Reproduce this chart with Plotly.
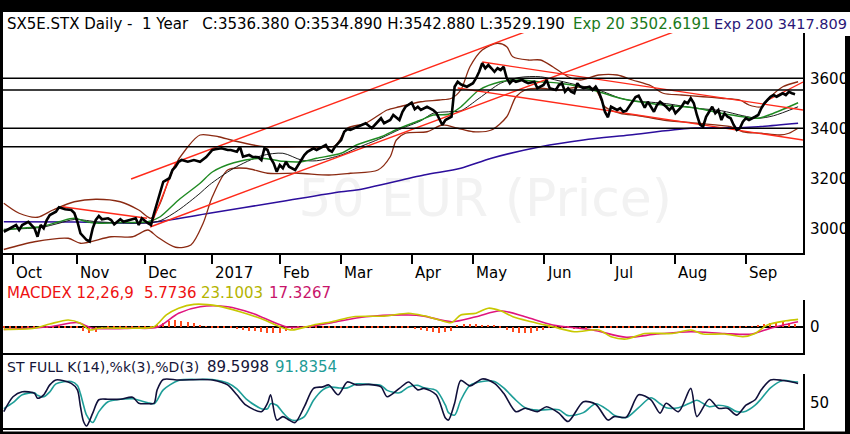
import plotly.graph_objs as go

# trading-day index: 0 = first session of Oct 2016 (weekdays only)
x_range = [-3.26, 257.6]
month_days = [0, 21, 43, 65, 87, 107, 130, 150, 173, 195, 216, 239]
month_labels = ['Oct', 'Nov', 'Dec', '2017', 'Feb', 'Mar', 'Apr', 'May', 'Jun', 'Jul', 'Aug', 'Sep']

price_day = [-3, -1, 1, 2, 3, 5, 7, 8, 9, 10,
             11, 12, 14, 15, 17, 19, 20, 21, 22, 24,
             25, 26, 27, 28, 29, 31, 32, 33, 35, 36,
             38, 40, 41, 42, 44, 45, 46, 48, 49, 51,
             52, 53, 54, 55, 57, 59, 61, 63, 65, 66,
             68, 70, 71, 73, 74, 75, 77, 78, 80, 81,
             82, 83, 84, 85, 86, 87, 88, 89, 90, 92,
             93, 95, 96, 98, 99, 101, 102, 103, 104, 105,
             107, 108, 109, 110, 112, 114, 115, 117, 119, 120,
             121, 123, 124, 126, 127, 128, 130, 131, 132, 133,
             135, 137, 138, 140, 141, 143, 144, 145, 146, 148,
             150, 151, 152, 153, 154, 155, 156, 157, 158, 159,
             160, 161, 162, 163, 164, 166, 167, 168, 170, 171,
             173, 174, 175, 177, 178, 179, 180, 181, 182, 183,
             184, 185, 186, 188, 189, 190, 191, 192, 193, 194,
             195, 196, 197, 198, 199, 200, 201, 202, 203, 204,
             205, 206, 207, 208, 209, 210, 211, 213, 214, 215,
             216, 217, 218, 219, 220, 221, 222, 223, 224, 225,
             226, 227, 228, 229, 230, 231, 232, 233, 234, 235,
             236, 237, 238, 239, 240, 242, 243, 244, 245, 246,
             247, 248, 249, 250, 251, 252, 253, 254, 255]
price_close = [2986, 3000, 3013, 2993, 3013, 3026, 3000, 2966, 3013, 3000,
               3033, 3053, 3066, 3084, 3076, 3073, 3061, 3026, 2980, 2953,
               2947, 3000, 3033, 3049, 3036, 3040, 3033, 3016, 3036, 3026,
               3033, 3040, 3013, 3040, 3020, 3013, 3060, 3140, 3186, 3200,
               3233, 3246, 3266, 3273, 3266, 3273, 3266, 3285, 3313, 3316,
               3320, 3313, 3313, 3306, 3326, 3286, 3293, 3286, 3284, 3273,
               3320, 3313, 3280, 3260, 3226, 3253, 3240, 3266, 3246, 3233,
               3253, 3293, 3306, 3320, 3313, 3326, 3333, 3313, 3306, 3326,
               3353, 3386, 3396, 3393, 3403, 3413, 3420, 3400, 3426, 3440,
               3420, 3433, 3453, 3433, 3466, 3486, 3502, 3476, 3486, 3473,
               3486, 3473, 3462, 3413, 3433, 3446, 3566, 3586, 3576, 3566,
               3580, 3600, 3626, 3660, 3640, 3653, 3640, 3626, 3640, 3633,
               3646, 3600, 3580, 3593, 3586, 3593, 3586, 3580, 3586, 3560,
               3573, 3593, 3560, 3553, 3573, 3580, 3546, 3560, 3546, 3540,
               3580, 3566, 3560, 3566, 3553, 3566, 3546, 3513, 3466, 3444,
               3486, 3480, 3473, 3480, 3466, 3470, 3490, 3505, 3525, 3530,
               3505, 3482, 3506, 3486, 3466, 3493, 3506, 3486, 3473, 3486,
               3460, 3473, 3486, 3506, 3500, 3520, 3500, 3453, 3415, 3406,
               3446, 3466, 3486, 3460, 3473, 3433, 3460, 3446, 3440, 3413,
               3393, 3400, 3426, 3440, 3433, 3446, 3453, 3480, 3500, 3513,
               3526, 3533, 3526, 3533, 3540, 3533, 3546, 3540, 3536]

ema20_day = [-3, 2, 9, 15, 20, 24, 28, 35, 44, 48, 54, 61, 65, 72, 81, 88, 94, 99, 107, 112,
             120, 126, 133, 137, 142, 146, 152, 159, 165, 172, 178, 185, 191, 198, 202, 212,
             223, 231, 238, 243, 248, 256]
ema20 = [2993, 3000, 3006, 3026, 3040, 3026, 3020, 3023, 3026, 3046, 3113, 3180, 3225, 3262,
         3280, 3268, 3266, 3280, 3300, 3333, 3366, 3400, 3433, 3453, 3456, 3485, 3553, 3586,
         3593, 3586, 3580, 3566, 3546, 3520, 3510, 3493, 3480, 3460, 3446, 3440, 3460, 3502]

mid_day = [-3, 9, 15, 20, 28, 35, 44, 48, 54, 61, 64, 72, 81, 88, 94, 99, 107, 112, 120, 126,
           133, 137, 142, 146, 152, 159, 165, 172, 178, 185, 191, 198, 202, 212, 223, 231,
           238, 243, 248, 256]
mid20 = [2996, 3003, 3020, 3035, 3025, 3022, 3022, 3030, 3073, 3140, 3173, 3240, 3290, 3300,
         3273, 3270, 3293, 3320, 3360, 3395, 3430, 3460, 3466, 3470, 3520, 3580, 3603, 3606,
         3590, 3570, 3553, 3520, 3510, 3500, 3480, 3470, 3450, 3440, 3450, 3486]

upper_day = [-3, 2, 8, 13, 20, 27, 35, 41, 45, 48, 52, 57, 61, 67, 72, 82, 95, 105, 109, 115,
             122, 126, 133, 139, 143, 146, 149, 153, 158, 161, 163, 168, 172, 176, 181, 185,
             191, 197, 202, 208, 212, 218, 225, 231, 237, 240, 244, 247, 251, 256]
upper_band = [3100, 3060, 3044, 3073, 3106, 3116, 3106, 3073, 3040, 3100, 3233, 3326, 3373,
              3366, 3350, 3326, 3326, 3330, 3400, 3420, 3473, 3486, 3506, 3513, 3520, 3553,
              3646, 3713, 3740, 3726, 3686, 3673, 3673, 3646, 3606, 3593, 3613, 3613, 3593,
              3570, 3540, 3533, 3526, 3520, 3513, 3493, 3486, 3526, 3566, 3586]

lower_day = [-3, 7, 18, 22, 32, 39, 44, 47, 53, 58, 62, 65, 70, 76, 83, 93, 103, 110, 119, 123,
             125, 128, 135, 140, 145, 150, 156, 161, 164, 167, 172, 178, 185, 190, 193, 198,
             204, 212, 223, 234, 238, 244, 250, 253, 256]
lower_band = [2915, 2946, 2960, 2940, 2966, 2966, 2993, 2966, 2924, 2933, 3020, 3126, 3233,
              3240, 3220, 3220, 3213, 3220, 3233, 3286, 3353, 3380, 3386, 3413, 3400, 3386,
              3393, 3446, 3526, 3553, 3560, 3553, 3566, 3553, 3486, 3460, 3450, 3433, 3420,
              3406, 3386, 3380, 3373, 3380, 3400]

ema200_day = [-3, 21, 44, 64, 87, 107, 112, 134, 146, 156, 172, 186, 201, 221, 237, 243, 256]
ema200 = [3026, 3025, 3022, 3060, 3106, 3146, 3153, 3213, 3240, 3280, 3326, 3353, 3373, 3400,
          3402, 3406, 3420]

# red trend lines: start day, start value, end day, end value
trend_x0 = [38.5, 44.7, 16, 45, 153, 145, 246.2]
trend_y0 = [3197, 3005, 3086, 3013, 3665, 3561, 3513]
trend_x1 = [175, 220, 43.7, 53, 257.6, 257.6, 257.6]
trend_y1 = [3822, 3806, 3040, 3260, 3473, 3353, 3585]

levels = [3600, 3553, 3400, 3326]

macd_day = [-3, 7, 12, 18, 22, 25, 28, 39, 46, 50, 54, 59, 67, 74, 82, 87, 91, 98, 104, 111,
            121, 129, 134, 139, 143, 146, 151, 155, 159, 163, 169, 176, 183, 191, 195, 200,
            206, 215, 221, 225, 232, 238, 242, 246, 252, 256]
macd = [-9, -5, 9, 23, 12, -11, -5, -5, 0, 40, 63, 76, 70, 51, 23, 0, -11, 6, 17, 34,
        36, 46, 37, 23, 14, 40, 46, 63, 54, 34, 17, 0, -17, -11, -34, -42,
        -23, -23, -11, -25, -25, -34, -23, 6, 20, 25]
signal_day = [-3, 12, 21, 26, 39, 47, 54, 61, 70, 78, 89, 96, 104, 115, 129, 134, 143, 151,
              159, 167, 176, 189, 200, 210, 221, 232, 241, 247, 256]
signal = [-9, 0, 14, -5, -5, -2, 46, 68, 68, 46, 0, 0, 14, 34, 40, 36, 17, 34,
          54, 34, 6, -11, -36, -25, -17, -23, -25, -5, 17]
hist_day = list(range(-3, 256, 2))
hist = [-5, -5, -6, -5, -4, -5, -4,
        -3, -2, -2, -3, -3, -4,
        -15, -22, -18,
        -8, -6, -5, -5, -4, -5, -4, -5, -3,
        6, 14, 20, 23, 21, 16, 11, 6,
        2, -2, -3, -3, -4,
        -7, -10, -13, -16, -18, -20, -22, -20, -15, -9,
        -5, -4, -3, -5, -4, -5, -4, -3, -5, -4, -5, -4, -5, -3, -4, -5, -4, -5, -6, -8, -10,
        -14, -18, -21, -19, -14,
        5, 8, 10, 9, 7, 6, 4,
        -6, -12, -17, -21, -23, -20, -15, -10, -6,
        -4, -5, -6, -7, -8, -7, -6, -5, -4, -5, -6, -5, -4, -3, -4, -5, -4,
        -3, -2, -3, -4, -5, -4, -3, -4, -5, -6, -5, -4, -3, -2, -1, 2,
        6, 10, 14, 17, 15, 12, 10]

st_day = [-3, 0, 3, 7, 8, 10, 12, 14, 19, 21,
          22, 23, 24, 26, 28, 31, 35, 39, 41, 44,
          46, 47, 49, 54, 61, 65, 70, 73, 76, 81,
          83, 84, 86, 88, 90, 92, 95, 98, 101, 103,
          106, 109, 112, 116, 120, 122, 126, 129, 132, 134,
          138, 141, 142, 144, 146, 149, 153, 157, 160, 164,
          167, 171, 174, 178, 181, 186, 190, 194, 196, 200,
          204, 208, 211, 213, 217, 221, 223, 227, 230, 233,
          236, 239, 242, 244, 247, 251, 254, 256]
st_k = [32, 62, 72, 69, 59, 66, 86, 96, 89, 76,
        42, 12, 3, 29, 56, 57, 57, 61, 49, 48,
        49, 76, 97, 96, 97, 96, 86, 66, 45, 32,
        49, 66, 15, 22, 15, 10, 42, 79, 82, 86,
        66, 92, 86, 87, 82, 62, 79, 92, 76, 79,
        66, 19, 15, 49, 95, 84, 98, 89, 69, 32,
        39, 32, 42, 29, 12, 52, 47, 15, 22, 21,
        66, 56, 29, 49, 32, 79, 22, 57, 39, 39,
        25, 45, 56, 76, 96, 95, 92, 89]
st_d = [38, 50, 66, 70, 65, 62, 72, 88, 93, 85,
        68, 45, 25, 10, 32, 52, 57, 58, 55, 50,
        48, 55, 76, 95, 97, 97, 90, 78, 58, 38,
        38, 48, 45, 30, 18, 14, 22, 55, 76, 82,
        80, 80, 88, 87, 85, 75, 70, 82, 85, 80,
        75, 45, 30, 25, 55, 85, 93, 93, 80, 55,
        40, 35, 36, 36, 24, 30, 48, 35, 25, 20,
        40, 60, 48, 40, 40, 50, 55, 42, 45, 42,
        32, 33, 45, 58, 80, 95, 93, 92]

FONT = 'DejaVu Sans'
NB = '\u00a0'


def line(x, y, color, width, ax='', shape='linear'):
    return go.Scatter(x=x, y=y, mode='lines', hoverinfo='skip',
                      line=dict(color=color, width=width, shape=shape, smoothing=0.8),
                      xaxis='x' + ax, yaxis='y' + ax)


data = [
    go.Scatter(x=[154], y=[3101], mode='text', text=['50 EUR (Price)'], hoverinfo='skip',
               textfont=dict(family=FONT, size=52, color='#f2f2f2')),
    line(ema200_day, ema200, '#2c0e9c', 1.6, shape='spline'),
    line(upper_day, upper_band, '#8b2a12', 1.3, shape='spline'),
    line(lower_day, lower_band, '#8b2a12', 1.3, shape='spline'),
    line(mid_day, mid20, '#1a1a1a', 1.0, shape='spline'),
    line(ema20_day, ema20, '#1f8a22', 1.4, shape='spline'),
]
for x0, y0, x1, y1 in zip(trend_x0, trend_y0, trend_x1, trend_y1):
    data.append(line([x0, x1], [y0, y1], '#ff2a1a', 1.4))
data.append(line(price_day, price_close, 'black', 2.6))

data += [
    go.Bar(x=hist_day, y=hist, width=0.45, marker=dict(color='#ff4a1e', line=dict(width=0)),
           hoverinfo='skip', xaxis='x2', yaxis='y2'),
    line(signal_day, signal, '#e0157e', 1.6, '2', 'spline'),
    line(macd_day, macd, '#c8c800', 1.6, '2', 'spline'),
    line(st_day, st_d, '#1e9e98', 1.6, '3', 'spline'),
    line(st_day, st_k, '#10103a', 1.6, '3', 'spline'),
]

fig = go.Figure(data=data)


def px_x(px):
    return (px - 3) / 800.0


def px_y(py):
    return (430 - py) / 418.0


def label(text, px, py, color, size=15):
    return dict(text=text, x=px_x(px), y=px_y(py), xref='paper', yref='paper',
                xanchor='left', yanchor='middle', showarrow=False,
                font=dict(family=FONT, size=size, color=color))


annotations = [
    label('SX5E.STX Daily -' + NB * 2 + '1 Year' + NB * 3 +
          'C:3536.380 O:3534.890 H:3542.880 L:3529.190', 5, 24, 'black'),
    label('Exp 20 3502.6191', 571, 24, '#1b7a1b'),
    label('Exp 200 3417.809', 712, 24, '#2a1778', 14.5),
    label('MACDEX 12,26,9', 5, 293, '#ee1111'),
    label('5.7736', 142, 293, '#ee1111'),
    label('23.1003', 199, 293, '#b4b400'),
    label('17.3267', 267, 293, '#c8146a'),
    label('ST FULL K(14),%k(3),%D(3)', 5, 367, '#151538', 14),
    label('89.5998', 205, 367, '#151538'),
    label('91.8354', 273, 367, '#1e9b96'),
]
for d, name in zip(month_days, month_labels):
    annotations.append(dict(text=name, x=d, y=px_y(273), xref='x', yref='paper',
                            xanchor='left', yanchor='middle', xshift=1, showarrow=False,
                            font=dict(family=FONT, size=15, color='black')))

# white page on a black frame; the title row runs to the right edge
shapes = [dict(type='rect', xref='paper', yref='paper', x0=0, x1=px_x(845),
               y0=px_y(431.5), y1=1, fillcolor='white', line=dict(width=0), layer='below'),
          dict(type='rect', xref='paper', yref='paper', x0=0, x1=px_x(850),
               y0=px_y(36), y1=1, fillcolor='white', line=dict(width=0), layer='below')]
for v in levels:
    shapes.append(dict(type='line', xref='x domain', yref='y', x0=0, x1=1, y0=v, y1=v,
                       line=dict(color='black', width=1.5)))

axis_common = dict(showgrid=False, zeroline=False, showline=True, linecolor='black',
                   linewidth=2, fixedrange=True)

layout = dict(
    width=850, height=434,
    margin=dict(l=3, r=47, t=12, b=4),
    paper_bgcolor='black', plot_bgcolor='white',
    showlegend=False, bargap=0,
    font=dict(family=FONT, size=15, color='black'),
    xaxis=dict(axis_common, domain=[0, 1], anchor='y', range=x_range,
               tickvals=month_days, ticks='outside', ticklen=9, tickwidth=2,
               tickcolor='black', showticklabels=False),
    yaxis=dict(axis_common, domain=[px_y(253), px_y(33)], anchor='x', side='right',
               range=[2901, 3781], tickvals=[3000, 3200, 3400, 3600], ticks='',
               ticklabelstandoff=2),
    xaxis2=dict(axis_common, domain=[0, 1], anchor='y2', range=x_range,
                showticklabels=False, ticks=''),
    yaxis2=dict(axis_common, domain=[px_y(353), px_y(300)], anchor='x2', side='right',
                range=[-89.4, 90.8], tickvals=[0], ticks='', ticklabelstandoff=2),
    xaxis3=dict(axis_common, domain=[0, 1], anchor='y3', range=x_range,
                showticklabels=False, ticks=''),
    yaxis3=dict(axis_common, domain=[px_y(427.5), px_y(374)], anchor='x3', side='right',
                range=[0, 108], tickvals=[50], ticks='', ticklabelstandoff=2),
    annotations=annotations,
    shapes=shapes,
)
fig.layout.update(layout)
fig.layout.yaxis2.update({'zeroline': True, 'zerolinecolor': 'black', 'zerolinewidth': 2})

# the page body keeps its default 8px margin otherwise
fig.write_html('out.html', config={'displayModeBar': False},
               post_script="document.body.style.margin='0px';")
